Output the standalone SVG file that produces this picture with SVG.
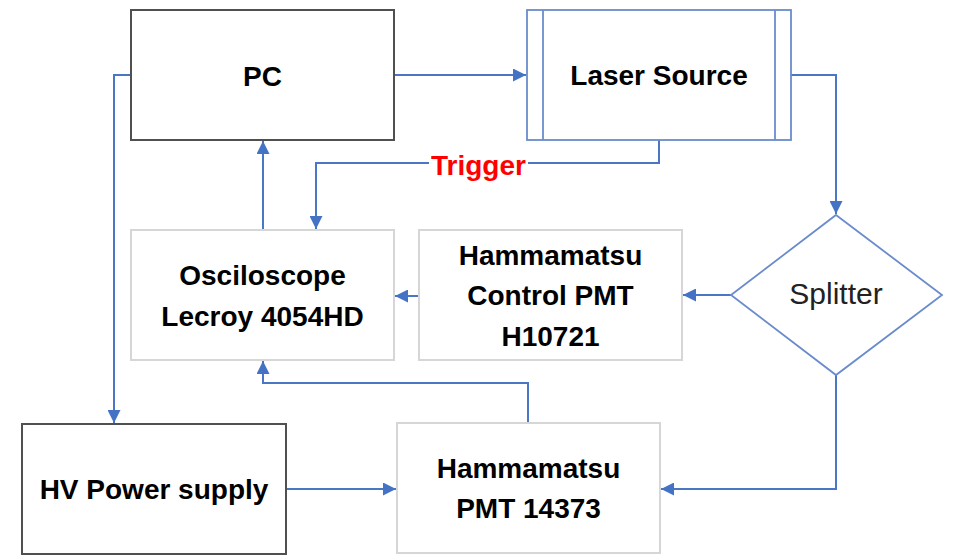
<svg xmlns="http://www.w3.org/2000/svg" width="956" height="556" viewBox="0 0 956 556">
  <style>
    .lbl { font-family: "Liberation Sans", Arial, sans-serif; font-size: 28px; font-weight: bold; fill: #000; text-anchor: middle; }
    .reg { font-weight: normal; font-size: 30px; fill: #222; }
    .dark { fill: #fff; stroke: #505050; stroke-width: 2; }
    .light { fill: #fff; stroke: #d6d6d6; stroke-width: 2; }
    .blue { fill: #fff; stroke: #6a8ccc; stroke-width: 1.8; }
    .conn { fill: none; stroke: #4a76c6; stroke-width: 2; }
  </style>
  <defs>
    <marker id="arr" viewBox="0 0 12 12" refX="12" refY="6" markerWidth="13" markerHeight="13" markerUnits="userSpaceOnUse" orient="auto">
      <path d="M0,0 L12,6 L0,12 z" fill="#4472c4"/>
    </marker>
  </defs>
  <rect width="956" height="556" fill="#fff"/>

  <g id="connectors">
    <path class="conn" d="M394,75 H526" marker-end="url(#arr)"/>
    <path class="conn" d="M791,75 H836 V214" marker-end="url(#arr)"/>
    <path class="conn" d="M659,140 V163 H316 V229" marker-end="url(#arr)"/>
    <path class="conn" d="M263,230 V141" marker-end="url(#arr)"/>
    <path class="conn" d="M131,75 H114 V423" marker-end="url(#arr)"/>
    <path class="conn" d="M419,296 H395" marker-end="url(#arr)"/>
    <path class="conn" d="M731,295 H683" marker-end="url(#arr)"/>
    <path class="conn" d="M836,375 V489 H661" marker-end="url(#arr)"/>
    <path class="conn" d="M286,489 H396" marker-end="url(#arr)"/>
    <path class="conn" d="M528,423 V383 H263 V361" marker-end="url(#arr)"/>
  </g>

  <g id="trigger-label">
    <rect x="429" y="146" width="99" height="36" fill="#fff"/>
    <text class="lbl" x="478.5" y="175" style="fill:#ff0000">Trigger</text>
  </g>

  <g id="pc">
    <rect class="dark" x="131" y="10" width="263" height="130"/>
    <text class="lbl" x="262.5" y="86">PC</text>
  </g>

  <g id="laser">
    <rect class="blue" x="527" y="10" width="264" height="130"/>
    <line class="blue" x1="543" y1="10" x2="543" y2="140"/>
    <line class="blue" x1="775" y1="10" x2="775" y2="140"/>
    <text class="lbl" x="659" y="85">Laser Source</text>
  </g>

  <g id="oscilloscope">
    <rect class="light" x="131" y="230" width="263" height="130"/>
    <text class="lbl" x="262.5" y="285">Osciloscope</text>
    <text class="lbl" x="262.5" y="326">Lecroy 4054HD</text>
  </g>

  <g id="control-pmt">
    <rect class="light" x="419" y="230" width="263" height="130"/>
    <text class="lbl" x="550.5" y="265">Hammamatsu</text>
    <text class="lbl" x="550.5" y="305">Control PMT</text>
    <text class="lbl" x="550.5" y="346">H10721</text>
  </g>

  <g id="splitter">
    <polygon class="blue" points="836,215 942,295 836,375 731,295"/>
    <text class="lbl reg" x="836" y="304">Splitter</text>
  </g>

  <g id="hv-power">
    <rect class="dark" x="22" y="424" width="264" height="130"/>
    <text class="lbl" x="154" y="499">HV Power supply</text>
  </g>

  <g id="pmt">
    <rect class="light" x="397" y="423" width="263" height="130"/>
    <text class="lbl" x="528.5" y="478">Hammamatsu</text>
    <text class="lbl" x="528.5" y="518">PMT 14373</text>
  </g>
</svg>
